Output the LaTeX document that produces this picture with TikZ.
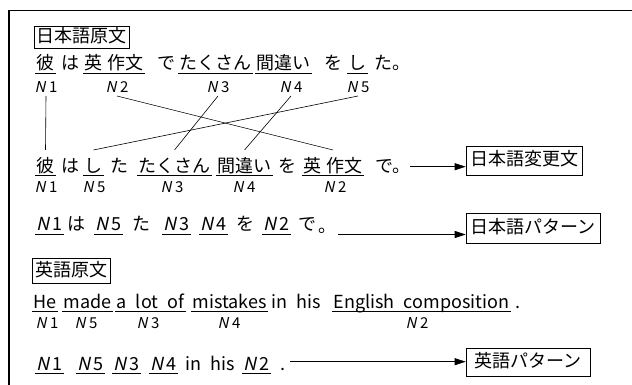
\documentclass[tikz,border=0pt]{standalone}
\usepackage{fontspec}
\setmainfont{Noto Sans CJK JP}[WordSpace=2.3]
\newfontfamily\slfont[FakeSlant=0.22]{Noto Sans CJK JP}
\usetikzlibrary{arrows.meta}
\newcommand{\bigf}{\fontsize{18}{21}\selectfont}
\newcommand{\smallf}{\fontsize{15}{17}\selectfont}
\newcommand{\Nlab}[1]{{\slfont N}\kern3.5pt#1}
\newcommand{\Npat}[1]{{\slfont N}\kern2.5pt#1}
\tikzset{
  wd/.style={inner xsep=1.5pt, inner ysep=0pt, outer sep=0pt, anchor=base west, text height=14pt, text depth=3.5pt, font=\bigf},
  lb/.style={inner sep=0pt, outer sep=0pt, anchor=base, text height=10.5pt, text depth=3pt, font=\smallf},
  tag/.style={draw, line width=0.6pt, inner sep=0pt, text height=14pt, text depth=3.5pt, font=\bigf, align=center},
  conn/.style={line width=0.6pt},
  uline/.style={line width=0.75pt},
  arr/.style={line width=0.7pt, -{Triangle[length=11pt,width=7pt]}},
}
\begin{document}
\begin{tikzpicture}[x=1pt, y=-1pt]
\useasboundingbox (0,0) rectangle (632,385);
\draw[line width=1.3pt] (9,400) -- (9,10.5) -- (640,10.5);

% tags
\node[tag, minimum width=95pt, minimum height=21.6pt] (t1) at (81.8,37.5) {日本語原文};
\node[tag, minimum width=77.7pt, minimum height=25pt] (t2) at (71,270.8) {英語原文};
\node[tag, anchor=west, minimum width=116pt, minimum height=29pt] (r1) at (465.7,160.5) {日本語変更文};
\node[tag, anchor=west, minimum width=134pt, minimum height=30pt] (r2) at (465.7,228.3) {日本語パターン};
\node[tag, anchor=west, minimum width=124pt, minimum height=28pt] (r3) at (465.7,362.5) {英語パターン};

% row 1
\node[wd] (a1) at (35,69.5) {彼};
\node[wd] (a2) at (60,69.5) {は};
\node[wd] (a3) at (83,69.5) {英\hspace{5pt}作文};
\node[wd] (a4) at (156,69.5) {で};
\node[wd] (a5) at (178,69.5) {たくさん};
\node[wd] (a6) at (255,69.5) {間違い};
\node[wd] (a7) at (323,69.5) {を};
\node[wd] (a8) at (347,69.5) {し};
\node[wd] (a9) at (373,69.5) {た};
\node[wd] (a10) at (391,69.5) {。};
\node[lb] (n1) at (46,93) {\Nlab{1}};
\node[lb] (n2) at (117,93) {\Nlab{2}};
\node[lb] (n3) at (218,93) {\Nlab{3}};
\node[lb] (n4) at (291,93) {\Nlab{4}};
\node[lb] (n5) at (358,93) {\Nlab{5}};

% row 2
\node[wd] (b1) at (35,172) {彼};
\node[wd] (b2) at (60,172) {は};
\node[wd] (b3) at (83,172) {し};
\node[wd] (b4) at (109,172) {た};
\node[wd] (b5) at (137,172) {たくさん};
\node[wd] (b6) at (216,172) {間違い};
\node[wd] (b7) at (277,172) {を};
\node[wd] (b8) at (302,172) {英\hspace{5pt}作文};
\node[wd] (b9) at (374,172) {で};
\node[wd] (b10) at (391,172) {。};
\node[lb] (m1) at (46,193) {\Nlab{1}};
\node[lb] (m5) at (94,193) {\Nlab{5}};
\node[lb] (m3) at (172,193) {\Nlab{3}};
\node[lb] (m4) at (244,193) {\Nlab{4}};
\node[lb] (m2) at (335,193) {\Nlab{2}};

% connectors
\draw[conn] (n1.south) -- ([yshift=8pt]b1.north);
\draw[conn] (n2.south) -- ([yshift=8pt]b8.north);
\draw[conn] (n3.south) -- ([yshift=8pt]b5.north);
\draw[conn] (n4.south) -- ([yshift=8pt]b6.north);
\draw[conn] (n5.south) -- ([yshift=8pt]b3.north);

% row 3
\node[wd] (q1) at (35,230.5) {\Npat{1}};
\node[wd] (q2) at (66,230.5) {は};
\node[wd] (q3) at (94,230.5) {\Npat{5}};
\node[wd] (q4) at (131,230.5) {た};
\node[wd] (q5) at (162,230.5) {\Npat{3}};
\node[wd] (q6) at (199,230.5) {\Npat{4}};
\node[wd] (q7) at (235,230.5) {を};
\node[wd] (q8) at (262,230.5) {\Npat{2}};
\node[wd] (q9) at (297,230.5) {で};
\node[wd] (q10) at (317,232.5) {。};

% row 5
\node[wd] (e1) at (32,308) {He};
\node[wd] (e2) at (62,308) {made};
\node[wd] (e3) at (115,308) {a lot of};
\node[wd] (e4) at (191,308) {mistakes};
\node[wd] (e5) at (270,308) {in his};
\node[wd] (e6) at (332,308) {English composition};
\node[wd] (e7) at (514,308) {.};
\node[lb] (f1) at (47,328) {\Nlab{1}};
\node[lb] (f5) at (86,328) {\Nlab{5}};
\node[lb] (f3) at (148,328) {\Nlab{3}};
\node[lb] (f4) at (229,328) {\Nlab{4}};
\node[lb] (f2) at (417,328) {\Nlab{2}};

% row 6
\node[wd] (g1) at (35,370) {\Npat{1}};
\node[wd] (g2) at (76,370) {\Npat{5}};
\node[wd] (g3) at (112,370) {\Npat{3}};
\node[wd] (g4) at (149,370) {\Npat{4}};
\node[wd] (g5) at (184,370) {in his};
\node[wd] (g6) at (242,370) {\Npat{2}};
\node[wd] (g7) at (279,370) {.};

% underlines
\foreach \n in {a1,a3,a5,a6,a8,b1,b3,b5,b6,b8,q1,q3,q5,q6,q8,e1,e2,e3,e4,e6,g1,g2,g3,g4,g6}
  \draw[uline] (\n.south west) -- (\n.south east);

% arrows
\coordinate (s2) at (410,166.7);
\coordinate (s3) at (338,234.5);
\coordinate (s6) at (290,361.7);
\draw[arr] (s2) -- (s2 -| r1.west);
\draw[arr] (s3) -- (s3 -| r2.west);
\draw[arr] (s6) -- (s6 -| r3.west);
\end{tikzpicture}
\end{document}
